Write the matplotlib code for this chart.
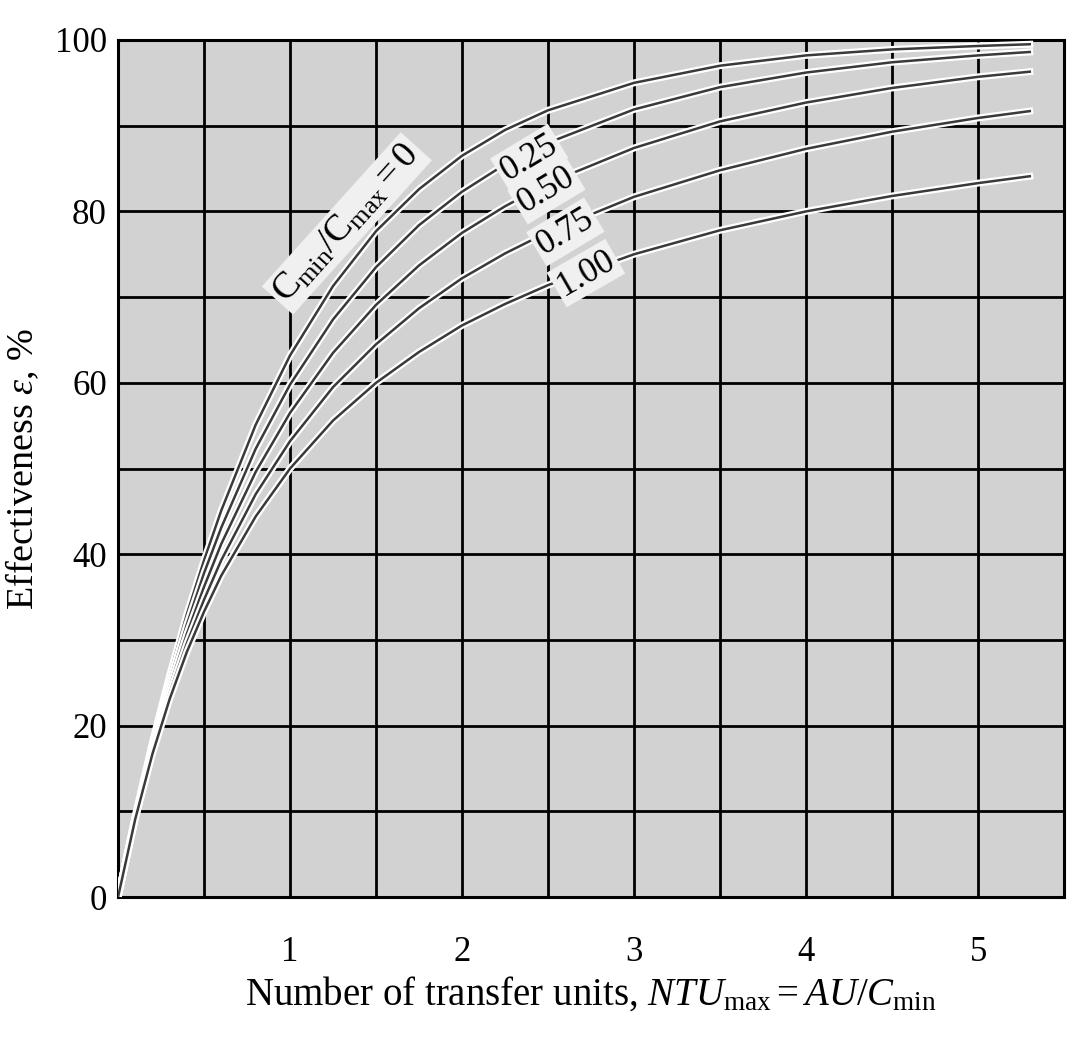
import matplotlib
matplotlib.use("Agg")
import matplotlib.pyplot as plt
import matplotlib.patheffects as pe
import numpy as np

# NTU values and effectiveness (%)
ntu = [0, 0.1, 0.2, 0.3, 0.4, 0.5, 0.6, 0.8, 1.0, 1.25, 1.5, 1.75, 2.0, 2.25, 2.5,
       3.0, 3.5, 4.0, 4.5, 5.0, 5.3]
eff_c000 = [0, 9.5, 18.1, 25.9, 33.0, 39.3, 45.1, 55.1, 63.2, 71.3, 77.7, 82.6, 86.5, 89.5, 91.8,
            95.0, 97.0, 98.2, 98.9, 99.3, 99.5]
eff_c025 = [0, 9.4, 17.7, 25.2, 31.8, 37.8, 43.1, 52.3, 59.8, 67.4, 73.5, 78.4, 82.3, 85.5, 88.0,
            91.9, 94.5, 96.2, 97.4, 98.2, 98.6]
eff_c050 = [0, 9.3, 17.4, 24.5, 30.7, 36.2, 41.2, 49.6, 56.5, 63.5, 69.1, 73.7, 77.5, 80.6, 83.3,
            87.4, 90.5, 92.7, 94.4, 95.7, 96.3]
eff_c075 = [0, 9.2, 17.0, 23.8, 29.6, 34.7, 39.3, 47.0, 53.2, 59.5, 64.5, 68.7, 72.2, 75.1, 77.6,
            81.7, 84.8, 87.3, 89.3, 90.9, 91.7]
eff_c100 = [0, 9.1, 16.7, 23.1, 28.6, 33.3, 37.5, 44.4, 50.0, 55.6, 60.0, 63.6, 66.7, 69.2, 71.4,
            75.0, 77.8, 80.0, 81.8, 83.3, 84.1]

series = [eff_c000, eff_c025, eff_c050, eff_c075, eff_c100]
ratio_labels = ["$\\mathrm{C}_{\\mathrm{min}}/\\mathrm{C}_{\\mathrm{max}} = 0$", "0.25", "0.50", "0.75", "1.00"]
label_pos = [(1.33, 78.6, 48, 27), (2.39, 86.2, 31, 25), (2.49, 82.5, 31, 25),
             (2.60, 77.6, 31, 25), (2.72, 72.8, 30, 25)]

xticks = [1, 2, 3, 4, 5]
yticks = [0, 20, 40, 60, 80, 100]

plt.rcParams['font.family'] = ['Liberation Serif', 'DejaVu Serif']
plt.rcParams['mathtext.fontset'] = 'custom'
plt.rcParams['mathtext.rm'] = 'Liberation Serif'
plt.rcParams['mathtext.it'] = 'Liberation Serif:italic'

bg = '#d2d2d2'
fig = plt.figure(figsize=(10.87, 10.41), dpi=100)
ax = fig.add_axes([0.1086, 0.1383, 0.8704, 0.8233])
ax.set_facecolor(bg)

ax.set_xlim(0, 5.5)
ax.set_ylim(0, 100)
ax.set_xticks(np.arange(0, 5.51, 0.5), minor=True)
ax.set_xticks(xticks)
ax.set_yticks(np.arange(0, 101, 10), minor=True)
ax.set_yticks(yticks)
ax.grid(True, which='both', color='black', linewidth=2.0)
ax.set_axisbelow(True)
ax.tick_params(which='both', length=0)
ax.tick_params(axis='x', labelsize=25, pad=28)
ax.tick_params(axis='y', labelsize=25, pad=8)
for s in ax.spines.values():
    s.set_linewidth(2.2)

for y in series:
    ax.plot(ntu, y, color='#3a3a3a', linewidth=1.8, zorder=3,
            path_effects=[pe.Stroke(linewidth=5, foreground='white'), pe.Normal()])

for txt, (x, y, rot, fs) in zip(ratio_labels, label_pos):
    ax.text(x, y, txt, fontsize=fs, rotation=rot, rotation_mode='anchor',
            ha='center', va='center', zorder=5,
            bbox=dict(boxstyle='square,pad=0.1', facecolor='#f0f0f0', edgecolor='none'))

ax.set_xlabel("Number of transfer units, $\\mathit{NTU}_{\\mathrm{max}} = \\mathit{AU/C}_{\\mathrm{min}}$",
              fontsize=28, labelpad=4)
ax.set_ylabel("Effectiveness $\\mathit{\\varepsilon}$, %", fontsize=27.5, labelpad=10)

fig.savefig("out.png", dpi=100, facecolor='white')
